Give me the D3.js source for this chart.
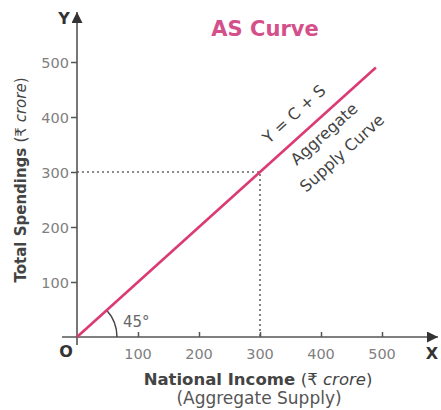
<!DOCTYPE html>
<html>
<head>
<meta charset="utf-8">
<script src="https://cdn.jsdelivr.net/npm/d3@7"></script>
<style>
  body { margin: 0; background: #fff; }
  svg { font-family: "DejaVu Sans", sans-serif; }
</style>
</head>
<body>
<svg id="chart" width="441" height="410"></svg>
<script>
// data
const tick_values = [100, 200, 300, 400, 500];
const as_line = [[0, 0], [490, 490]];
const marked_point = [300, 300];
const title_text = "AS Curve";

let svg = d3.select("#chart");
let axis_color = "#555";
let pink = "#dc3a74";

let x = d3.scaleLinear().domain([0, 500]).range([77, 382]);
let y = d3.scaleLinear().domain([0, 500]).range([337, 62]);

let defs = svg.append("defs");
defs.append("marker")
  .attr("id", "arrow")
  .attr("viewBox", "0 0 10 10")
  .attr("refX", 10).attr("refY", 5)
  .attr("markerWidth", 11).attr("markerHeight", 11)
  .attr("markerUnits", "userSpaceOnUse")
  .attr("orient", "auto")
  .append("path")
    .attr("d", "M0,0 L10,5 L0,10 z")
    .attr("fill", "#333");

// title
svg.append("text")
  .attr("x", 265).attr("y", 36)
  .attr("text-anchor", "middle")
  .attr("font-size", "21px")
  .attr("font-weight", "bold")
  .attr("fill", "#d4508a")
  .text(title_text);

// dotted guides
svg.append("path")
  .attr("d", `M${x(0)},${y(marked_point[1])} H${x(marked_point[0])} V${y(0)}`)
  .attr("fill", "none")
  .attr("stroke", "#666")
  .attr("stroke-width", 1.6)
  .attr("stroke-dasharray", "2,3");

// axes
let xAxis = d3.axisTop(x).tickValues(tick_values).tickSize(5).tickFormat("");
let yAxis = d3.axisLeft(y).tickValues(tick_values).tickSize(6).tickFormat(d => d);

let gx = svg.append("g").attr("transform", `translate(0,${y(0)})`).call(xAxis);
gx.select(".domain").remove();
gx.selectAll("line").attr("stroke", axis_color).attr("stroke-width", 1.5);

let gy = svg.append("g").attr("transform", `translate(${x(0)},0)`).call(yAxis);
gy.select(".domain").remove();
gy.selectAll("line").attr("stroke", axis_color).attr("stroke-width", 1.5);
gy.selectAll("text")
  .attr("font-size", "14.5px")
  .attr("fill", "#808080")
  .attr("x", -8)
  .attr("dy", "0.35em")
  .attr("font-family", "DejaVu Sans, sans-serif");

// x tick labels below axis
svg.append("g").selectAll("text")
  .data(tick_values)
  .enter().append("text")
    .attr("x", d => x(d))
    .attr("y", y(0) + 22)
    .attr("text-anchor", "middle")
    .attr("font-size", "14.5px")
    .attr("fill", "#808080")
    .text(d => d);

// axis lines with arrows
svg.append("line")
  .attr("x1", 62).attr("y1", y(0))
  .attr("x2", 438).attr("y2", y(0))
  .attr("stroke", axis_color).attr("stroke-width", 1.6)
  .attr("marker-end", "url(#arrow)");
svg.append("line")
  .attr("x1", x(0)).attr("y1", y(0) + 8)
  .attr("x2", x(0)).attr("y2", 12)
  .attr("stroke", axis_color).attr("stroke-width", 1.6)
  .attr("marker-end", "url(#arrow)");

svg.append("text").attr("x", 432).attr("y", 359)
  .attr("text-anchor", "middle").attr("font-size", "16px").attr("font-weight", "bold")
  .attr("fill", "#333").text("X");
svg.append("text").attr("x", 64).attr("y", 24)
  .attr("text-anchor", "middle").attr("font-size", "16px").attr("font-weight", "bold")
  .attr("fill", "#333").text("Y");
svg.append("text").attr("x", 66).attr("y", 357)
  .attr("text-anchor", "middle").attr("font-size", "16px").attr("font-weight", "bold")
  .attr("fill", "#333").text("O");

// 45 degree arc
let ang = Math.atan2(y(0) - y(as_line[1][1]), x(as_line[1][0]) - x(0));
let r = 40;
svg.append("path")
  .attr("d", `M${x(0) + r},${y(0)} A${r},${r} 0 0 0 ${x(0) + r * Math.cos(ang)},${y(0) - r * Math.sin(ang)}`)
  .attr("fill", "none")
  .attr("stroke", "#444")
  .attr("stroke-width", 1.5);
svg.append("text").attr("x", 123).attr("y", 327)
  .attr("font-size", "15px").attr("fill", "#666").text("45°");

// AS line
let line = d3.line().x(d => x(d[0])).y(d => y(d[1]));
svg.append("path")
  .datum(as_line)
  .attr("d", line)
  .attr("fill", "none")
  .attr("stroke", pink)
  .attr("stroke-width", 2.6);

// labels along the line
let deg = -ang * 180 / Math.PI;
function along(cx, cy, txt, size) {
  svg.append("text")
    .attr("transform", `translate(${cx},${cy}) rotate(${deg})`)
    .attr("text-anchor", "middle")
    .attr("dy", "0.35em")
    .attr("font-size", size)
    .attr("fill", "#444")
    .text(txt);
}
along(294, 114, "Y = C + S", "16px");
along(324, 134, "Aggregate", "16px");
along(342, 153, "Supply Curve", "16px");

// x axis title
let xt = svg.append("text")
  .attr("x", 258).attr("y", 385)
  .attr("text-anchor", "middle")
  .attr("font-size", "16.5px")
  .attr("fill", "#444");
xt.append("tspan").attr("font-weight", "bold").text("National Income ");
xt.append("tspan").text("(₹ ");
xt.append("tspan").attr("font-style", "italic").text("crore");
xt.append("tspan").text(")");

svg.append("text")
  .attr("x", 259).attr("y", 404)
  .attr("text-anchor", "middle")
  .attr("font-size", "17px")
  .attr("fill", "#555")
  .text("(Aggregate Supply)");

// y axis title
let yt = svg.append("text")
  .attr("transform", "translate(26,180) rotate(-90)")
  .attr("text-anchor", "middle")
  .attr("font-size", "15px")
  .attr("fill", "#444");
yt.append("tspan").attr("font-weight", "bold").text("Total Spendings ");
yt.append("tspan").text("(₹ ");
yt.append("tspan").attr("font-style", "italic").text("crore");
yt.append("tspan").text(")");
</script>
</body>
</html>
